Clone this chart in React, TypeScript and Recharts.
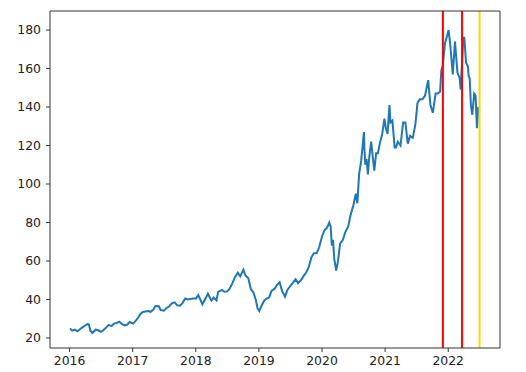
import React from 'react';
import { LineChart, Line, XAxis, YAxis, ReferenceLine } from 'recharts';

const dates: string[] = [
  '2016-01-04','2016-01-15','2016-02-01','2016-02-15','2016-03-01','2016-03-15','2016-04-01','2016-04-15','2016-04-22','2016-05-01','2016-05-12','2016-06-01','2016-06-15','2016-07-01','2016-07-15','2016-08-01','2016-08-15','2016-09-01','2016-09-15','2016-10-01','2016-10-15','2016-11-01','2016-11-15','2016-12-01','2016-12-15',
  '2017-01-03','2017-01-15','2017-02-01','2017-02-15','2017-03-01','2017-03-15','2017-04-01','2017-04-15','2017-05-01','2017-05-12','2017-06-01','2017-06-12','2017-07-01','2017-07-15','2017-08-01','2017-08-15','2017-09-01','2017-09-15','2017-10-01','2017-10-15','2017-11-01','2017-11-15','2017-12-01','2017-12-15',
  '2018-01-02','2018-01-15','2018-02-01','2018-02-08','2018-03-01','2018-03-12','2018-04-01','2018-04-15','2018-05-01','2018-05-10','2018-06-01','2018-06-15','2018-07-01','2018-07-15','2018-08-01','2018-08-15','2018-09-01','2018-09-15','2018-10-03','2018-10-15','2018-11-01','2018-11-15','2018-12-01','2018-12-15','2018-12-24',
  '2019-01-03','2019-01-15','2019-02-01','2019-02-15','2019-03-01','2019-03-15','2019-04-01','2019-04-15','2019-05-01','2019-05-15','2019-06-01','2019-06-15','2019-07-01','2019-07-15','2019-08-01','2019-08-15','2019-09-01','2019-09-15','2019-10-01','2019-10-15','2019-11-01','2019-11-15','2019-12-01','2019-12-15','2019-12-27',
  '2020-01-02','2020-01-15','2020-01-27','2020-02-03','2020-02-12','2020-02-20','2020-02-27','2020-03-05','2020-03-12','2020-03-16','2020-03-23','2020-04-01','2020-04-15','2020-05-01','2020-05-15','2020-06-01','2020-06-15','2020-07-01','2020-07-15','2020-07-24','2020-08-03','2020-08-15','2020-08-31','2020-09-03','2020-09-08','2020-09-15','2020-09-23','2020-10-01','2020-10-12','2020-10-20','2020-10-30','2020-11-10','2020-11-20','2020-12-01','2020-12-15','2020-12-28',
  '2021-01-05','2021-01-15','2021-01-26','2021-02-01','2021-02-12','2021-02-25','2021-03-05','2021-03-15','2021-03-31','2021-04-15','2021-04-28','2021-05-12','2021-05-25','2021-06-10','2021-06-25','2021-07-07','2021-07-20','2021-08-05','2021-08-20','2021-09-07','2021-09-20','2021-10-04','2021-10-20','2021-11-01','2021-11-15','2021-11-22','2021-12-01','2021-12-13','2021-12-28',
  '2022-01-03','2022-01-12','2022-01-27','2022-02-09','2022-02-23','2022-03-08','2022-03-14','2022-03-29','2022-04-04','2022-04-14','2022-04-25','2022-04-29','2022-05-05','2022-05-12','2022-05-20','2022-05-31','2022-06-08','2022-06-16','2022-06-24','2022-07-01',
];

const prices: number[] = [
  25.0,23.8,24.3,23.5,24.5,25.5,26.5,27.3,27.0,23.8,22.6,24.3,24.0,23.2,24.0,25.5,26.8,26.2,27.5,27.8,28.5,27.2,26.5,27.0,28.3,
  27.5,28.5,30.5,32.5,33.5,33.8,34.0,33.6,34.8,36.6,36.5,34.5,34.2,35.5,36.5,38.0,38.5,37.0,36.8,38.0,40.5,40.0,40.2,40.5,
  40.5,42.3,39.0,37.5,41.0,43.0,39.5,41.0,39.5,44.0,45.0,44.0,44.2,45.5,48.5,51.5,54.0,52.0,55.5,52.5,51.0,45.5,43.5,39.5,35.5,
  34.0,36.5,39.5,40.5,41.0,44.5,45.5,47.5,49.0,44.5,41.5,45.0,47.0,48.5,50.5,48.5,50.0,52.0,54.0,56.5,62.0,64.0,64.0,67.0,71.0,
  73,76,77,78,80,78,68,71,61,59,55,59,69,71,75,78,84,89,95,90,105,112,127,118,110,113,105,114,122,115,107,116,116,121,126,134,
  129,126,141,132,133,119,119,122,120,132,132,121,125,124,131,142,144,144,146,154,141,137,147,147,148,159,162,173,178,
  180,173,157,174,158,155,149,176,176,163,161,156,155,141,136,147,146,129,140,138,
];

const redLineDates: string[] = ['2021-12-01', '2022-03-22'];
const yellowLineDates: string[] = ['2022-07-01'];
const yearTicks: number[] = [2016, 2017, 2018, 2019, 2020, 2021, 2022];
const priceTicks: number[] = [20, 40, 60, 80, 100, 120, 140, 160, 180];

function toYear(s: string): number {
  const [y, m, d] = s.split('-').map(Number);
  const start = Date.UTC(y, 0, 1);
  const end = Date.UTC(y + 1, 0, 1);
  return y + (Date.UTC(y, m - 1, d) - start) / (end - start);
}

const data = dates.map((d, i) => ({ t: toYear(d), price: prices[i] }));

const xDomain: [number, number] = [2015.69, 2022.82];
const yDomain: [number, number] = [14.8, 189.9];
const tickStyle = { fill: '#222', fontSize: 12.4, fontFamily: 'DejaVu Sans' };
const spine = { stroke: '#333', strokeWidth: 1 };

export default function App() {
  return (
    <div style={{ position: 'fixed', left: 0, top: 0, width: 526, height: 372, background: '#fff' }}>
      <LineChart width={526} height={372} data={data} margin={{ top: 11, right: 26, bottom: 0, left: 0 }}>
        <XAxis
          dataKey="t" type="number" domain={xDomain} ticks={yearTicks} allowDataOverflow
          tick={tickStyle} tickLine={{ stroke: '#333' }} axisLine={spine} tickSize={4} tickMargin={4}
          height={24} tickFormatter={(v: number) => String(v)}
        />
        <YAxis
          type="number" domain={yDomain} ticks={priceTicks} allowDataOverflow
          tick={tickStyle} tickLine={{ stroke: '#333' }} axisLine={spine} tickSize={4} tickMargin={5} width={50}
        />
        <Line type="linear" dataKey="price" stroke="#1f77b4" strokeWidth={2} dot={false} isAnimationActive={false} />
        {redLineDates.map((d) => (
          <ReferenceLine key={d} x={toYear(d)} stroke="#ff0000" strokeWidth={2} />
        ))}
        {yellowLineDates.map((d) => (
          <ReferenceLine key={d} x={toYear(d)} stroke="#ffd700" strokeWidth={2} />
        ))}
        <ReferenceLine y={yDomain[1]} stroke="#333" strokeWidth={1} />
        <ReferenceLine x={xDomain[1]} stroke="#333" strokeWidth={1} />
      </LineChart>
    </div>
  );
}
